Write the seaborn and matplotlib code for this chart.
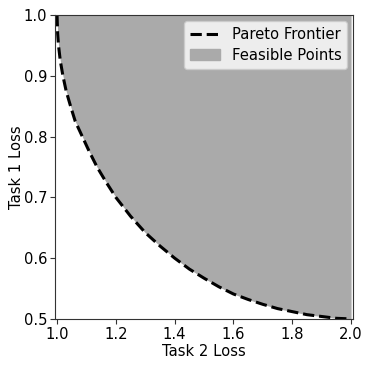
import matplotlib
matplotlib.use("Agg")
import matplotlib.pyplot as plt
import numpy as np
import pandas as pd
import seaborn as sns
from matplotlib.patches import Patch

# points
task2_loss = [1.0, 1.002, 1.005, 1.011, 1.02, 1.031, 1.046, 1.062, 1.086, 1.11,
              1.136, 1.167, 1.2, 1.25, 1.3, 1.35, 1.4, 1.45, 1.5, 1.55, 1.6,
              1.65, 1.7, 1.75, 1.8, 1.85, 1.9, 1.95, 2.0]
task1_loss = [1.0, 0.97, 0.95, 0.925, 0.9, 0.875, 0.85, 0.825, 0.8, 0.775,
              0.75, 0.725, 0.70, 0.669, 0.642, 0.62, 0.60, 0.582, 0.567, 0.553, 0.541,
              0.532, 0.524, 0.517, 0.512, 0.507, 0.504, 0.501, 0.5]
loss_ceiling = 1.0

df = pd.DataFrame({"task2": task2_loss, "task1": task1_loss})

sns.set_style("ticks")
plt.rcParams["font.family"] = ["DejaVu Sans"]
plt.rcParams["text.color"] = "black"
plt.rcParams["axes.labelcolor"] = "black"
plt.rcParams["xtick.color"] = "black"
plt.rcParams["ytick.color"] = "black"

fs = 10.6
dash = (0, (3.7, 1.6))

fig = plt.figure(figsize=(3.69, 3.67), dpi=100)
ax = fig.add_axes([0.149, 0.131, 0.808, 0.828])

ax.fill_between(df["task2"], df["task1"], loss_ceiling, color="#aaaaaa", linewidth=0)
sns.lineplot(data=df, x="task2", y="task1", color="black",
             linewidth=2.2, estimator=None, sort=False, ax=ax)
ax.lines[-1].set_linestyle(dash)

ax.set_xlim(0.993, 2.007)
ax.set_ylim(0.5, 1.0)
ax.set_xticks([1.0, 1.2, 1.4, 1.6, 1.8, 2.0])
ax.set_yticks([0.5, 0.6, 0.7, 0.8, 0.9, 1.0])
ax.tick_params(labelsize=fs, length=3.5, width=0.8, color="#333333", pad=2)
ax.set_xlabel("Task 2 Loss", fontsize=fs, labelpad=2)
ax.set_ylabel("Task 1 Loss", fontsize=fs, labelpad=0)
for s in ax.spines.values():
    s.set_linewidth(0.8)
    s.set_color("#333333")

handles = [plt.Line2D([], [], color="black", linestyle=dash, linewidth=2.2),
           Patch(color="#aaaaaa")]
ax.legend(handles, ["Pareto Frontier", "Feasible Points"], loc="upper right",
          fontsize=fs, frameon=True, framealpha=0.8, edgecolor="#cccccc",
          fancybox=True, handlelength=2.0, borderpad=0.4, labelspacing=0.4,
          borderaxespad=0.4)

fig.savefig("out.png", dpi=100)
